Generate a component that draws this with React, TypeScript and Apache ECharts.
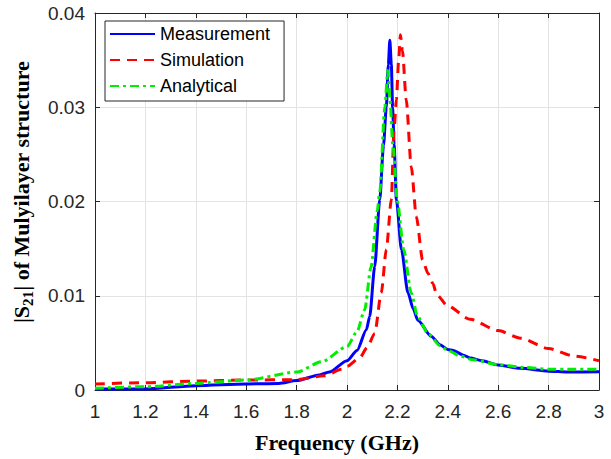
import React, { useEffect, useRef } from "react";
import * as echarts from "echarts";

// Frequency (GHz), |S21|
const measurement: [number, number][] = [
  [1.0, 0.0001], [1.2, 0.0001], [1.4, 0.00046], [1.6, 0.00064], [1.73, 0.0007],
  [1.8, 0.001], [1.89, 0.0016], [1.93, 0.0019], [2.0, 0.0031], [2.04, 0.0042],
  [2.077, 0.0064], [2.09, 0.0078], [2.11, 0.0131], [2.13, 0.0202], [2.145, 0.026],
  [2.156, 0.03], [2.164, 0.0345], [2.17, 0.0371], [2.176, 0.0345], [2.181, 0.03],
  [2.187, 0.026], [2.196, 0.0202], [2.216, 0.0149], [2.242, 0.0103], [2.263, 0.0086],
  [2.281, 0.0074], [2.334, 0.0057], [2.369, 0.0048], [2.4, 0.0043], [2.422, 0.0042],
  [2.462, 0.0037], [2.489, 0.0034], [2.536, 0.0031], [2.6, 0.00265], [2.689, 0.0023],
  [2.8, 0.002], [2.876, 0.0019], [3.0, 0.00194],
];

const simulation: [number, number][] = [
  [1.0, 0.00064], [1.2, 0.00078], [1.4, 0.00095], [1.6, 0.00106], [1.8, 0.0011],
  [1.91, 0.0015], [1.98, 0.0022], [2.0, 0.0025], [2.05, 0.0034], [2.08, 0.0045],
  [2.11, 0.006], [2.136, 0.0103], [2.156, 0.0149], [2.176, 0.0202], [2.186, 0.0273],
  [2.196, 0.0308], [2.205, 0.035], [2.212, 0.0377], [2.22, 0.036], [2.235, 0.0308],
  [2.255, 0.0237], [2.275, 0.0184], [2.3, 0.0138], [2.321, 0.0124], [2.341, 0.0113],
  [2.356, 0.0101], [2.4, 0.0089], [2.489, 0.0075], [2.6, 0.0063], [2.689, 0.0055],
  [2.8, 0.0044], [2.902, 0.0036], [3.0, 0.0031],
];

const analytical: [number, number][] = [
  [1.0, 0.00018], [1.2, 0.00035], [1.4, 0.0007], [1.6, 0.00106], [1.8, 0.0019],
  [1.9, 0.003], [2.0, 0.0046], [2.04, 0.0062], [2.07, 0.0085], [2.095, 0.013],
  [2.12, 0.019], [2.13, 0.021], [2.15, 0.03], [2.162, 0.0339], [2.17, 0.031],
  [2.182, 0.026], [2.2, 0.02], [2.225, 0.0149], [2.255, 0.0103], [2.28, 0.0078],
  [2.321, 0.006], [2.37, 0.0047], [2.4, 0.0042], [2.45, 0.0036], [2.5, 0.0032],
  [2.6, 0.0027], [2.7, 0.0024], [2.8, 0.0022], [2.9, 0.0022], [3.0, 0.0022],
];

const xTickLabels = ["1", "1.2", "1.4", "1.6", "1.8", "2", "2.2", "2.4", "2.6", "2.8", "3"];
const yTickLabels = ["0", "0.01", "0.02", "0.03", "0.04"];
const seriesNames = ["Measurement", "Simulation", "Analytical"];

const AX = "#262626";
const GRID = "#e3e3e3";
const SANS = "'Liberation Sans', Arial, sans-serif";
const SERIF = "'Liberation Serif', 'Times New Roman', serif";

export default function App() {
  const ref = useRef<HTMLDivElement>(null);
  useEffect(() => {
    document.body.style.margin = "0";
    if (!ref.current) return;
    const chart = echarts.init(ref.current, undefined, { renderer: "svg" });
    const xLab = (v: number) => xTickLabels[Math.round((v - 1) / 0.2)] ?? "";
    const yLab = (v: number) => yTickLabels[Math.round(v / 0.01)] ?? "";
    const lineCommon = { type: "line", showSymbol: false, symbol: "none", smooth: 0.25, smoothMonotone: "x" };
    chart.setOption({
      animation: false,
      backgroundColor: "#ffffff",
      grid: { left: 95, right: 12, top: 13, bottom: 69, containLabel: false, outerBoundsMode: "none" },
      legend: {
        data: seriesNames,
        orient: "vertical",
        left: 105,
        top: 21,
        itemWidth: 45,
        itemHeight: 14,
        itemGap: 8,
        padding: [4, 14, 6, 4],
        backgroundColor: "#ffffff",
        borderColor: AX,
        borderWidth: 1,
        itemStyle: { color: "transparent", borderColor: "transparent", borderWidth: 0, opacity: 0 },
        textStyle: { fontFamily: SANS, fontSize: 18, color: "#000000" },
      },
      xAxis: [
        {
          type: "value",
          min: 1,
          max: 3,
          interval: 0.2,
          position: "bottom",
          name: "Frequency (GHz)",
          nameLocation: "middle",
          nameGap: 41,
          nameTextStyle: { fontFamily: SERIF, fontWeight: "bold", fontSize: 22, color: "#000000", padding: [0, 20, 0, 0] },
          axisLine: { show: true, onZero: false, lineStyle: { color: AX, width: 1 } },
          axisTick: { show: true, inside: true, length: 5, lineStyle: { color: AX } },
          axisLabel: { formatter: xLab, fontFamily: SANS, fontSize: 19, color: AX, margin: 12 },
          splitLine: { show: true, lineStyle: { color: GRID, width: 1 } },
        },
        {
          type: "value",
          min: 1,
          max: 3,
          interval: 0.2,
          position: "top",
          axisLine: { show: true, onZero: false, lineStyle: { color: AX, width: 1 } },
          axisTick: { show: true, inside: true, length: 5, lineStyle: { color: AX } },
          axisLabel: { show: false },
          splitLine: { show: false },
        },
      ],
      yAxis: [
        {
          type: "value",
          min: 0,
          max: 0.04,
          interval: 0.01,
          position: "left",
          name: "{b||S}{s|21}{b|| of Mulyilayer structure}",
          nameLocation: "middle",
          nameRotate: 90,
          nameGap: 60,
          nameTextStyle: {
            color: "#000000",
            padding: [0, 0, 0, 19],
            rich: {
              b: { fontFamily: SERIF, fontWeight: "bold", fontSize: 22, color: "#000000" },
              s: { fontFamily: SERIF, fontWeight: "bold", fontSize: 15, color: "#000000", padding: [12, 0, 0, 0] },
            },
          },
          axisLine: { show: true, onZero: false, lineStyle: { color: AX, width: 1 } },
          axisTick: { show: true, inside: true, length: 5, lineStyle: { color: AX } },
          axisLabel: { formatter: yLab, fontFamily: SANS, fontSize: 19, color: AX, margin: 10 },
          splitLine: { show: true, lineStyle: { color: GRID, width: 1 } },
        },
        {
          type: "value",
          min: 0,
          max: 0.04,
          interval: 0.01,
          position: "right",
          axisLine: { show: true, onZero: false, lineStyle: { color: AX, width: 1 } },
          axisTick: { show: true, inside: true, length: 5, lineStyle: { color: AX } },
          axisLabel: { show: false },
          splitLine: { show: false },
        },
      ],
      series: [
        {
          ...lineCommon,
          name: seriesNames[0],
          data: measurement,
          itemStyle: { color: "#0000ff" },
          lineStyle: { color: "#0000ff", width: 3, type: "solid" },
          z: 3,
        },
        {
          ...lineCommon,
          name: seriesNames[1],
          data: simulation,
          itemStyle: { color: "#ff0000" },
          lineStyle: { color: "#ff0000", width: 3, type: [10, 7] },
          z: 4,
        },
        {
          ...lineCommon,
          name: seriesNames[2],
          data: analytical,
          itemStyle: { color: "#00ee00" },
          lineStyle: { color: "#00ee00", width: 3, type: [9, 4, 3, 4] },
          z: 5,
        },
      ],
    });
    return () => chart.dispose();
  }, []);
  return <div ref={ref} style={{ width: 611, height: 459 }} />;
}
